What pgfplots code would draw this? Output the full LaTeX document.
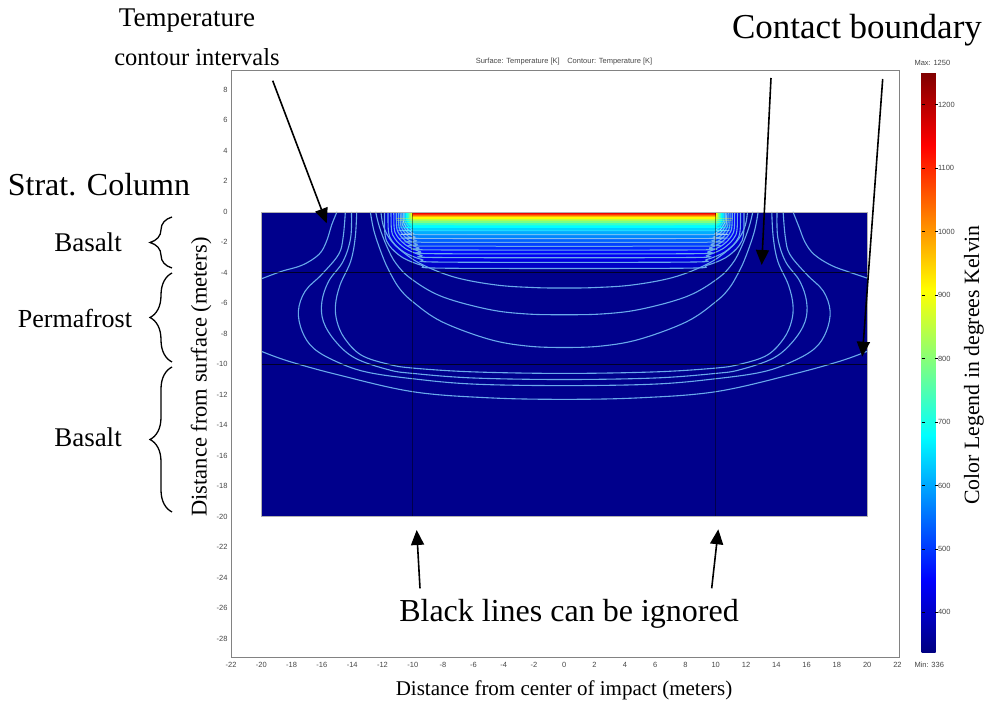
\documentclass[border=0pt]{standalone}
\usepackage{pgfplots}
\pgfplotsset{compat=1.18}
\usepackage{fontspec}
\setmainfont{Liberation Serif}
\newfontfamily\tickfamily{Liberation Sans}
\usetikzlibrary{arrows.meta,decorations.pathreplacing,calc}

\definecolor{navy}{rgb}{0,0,0.55}
\definecolor{cline}{RGB}{105,170,235}
\definecolor{tickgray}{RGB}{70,70,70}
\definecolor{framegray}{RGB}{130,130,130}
\definecolor{l1}{rgb}{0,0,0.78}
\definecolor{l2}{rgb}{0,0,0.87}
\definecolor{l3}{rgb}{0,0,0.955}
\definecolor{l4}{rgb}{0,0.04,1}
\definecolor{l5}{rgb}{0,0.15,1}
\definecolor{l6}{rgb}{0,0.26,1}
\definecolor{l7}{rgb}{0,0.39,1}
\definecolor{l8}{rgb}{0,0.525,1}
\definecolor{l9}{rgb}{0,0.68,1}
\definecolor{l10}{rgb}{0,0.83,1}
\definecolor{l11}{rgb}{0,1,1}
\definecolor{l12}{rgb}{0.22,1,0.78}
\definecolor{l13}{rgb}{0.49,1,0.51}
\definecolor{l14}{rgb}{0.75,1,0.25}
\definecolor{l15}{rgb}{1,0.99,0}
\definecolor{l16}{rgb}{1,0.725,0}
\definecolor{l17}{rgb}{1,0.46,0}
\definecolor{l18}{rgb}{1,0.2,0}
\definecolor{l19}{rgb}{0.94,0,0}
\definecolor{l20}{rgb}{0.68,0,0}

\newcommand\tickfont{\tickfamily\fontsize{7.5bp}{8bp}\selectfont}
\newcommand\annot{\fontsize{27bp}{30bp}\selectfont}
\newcommand\labfont{\fontsize{21.5bp}{24bp}\selectfont}

\pgfplotsset{band/.style={draw=none, smooth, tension=0.5}}

\begin{document}
\begin{tikzpicture}
\useasboundingbox (0,0) rectangle (985bp,702bp);
\begin{axis}[
  at={(231bp,45bp)}, anchor=south west,
  scale only axis, width=668bp, height=587bp,
  xmin=-22, xmax=22.1, ymin=-29.2, ymax=9.3,
  xtick={-22,-20,...,22}, ytick={-28,-26,...,8},
  tick style={draw=none},
  /pgf/number format/assume math mode=true,
  xticklabel style={font=\tickfont, text=tickgray, yshift=-2bp},
  yticklabel style={font=\tickfont, text=tickgray},
  axis line style={draw=framegray, line width=0.8bp},
  colormap/jet, point meta min=336, point meta max=1250,
  colorbar,
  colorbar style={
    at={($(parent axis.north east)+(14bp,-3bp)$)}, anchor=north west,
    scale only axis, width=16bp, height=580bp,
    ytick={400,500,...,1200},
    yticklabel style={font=\tickfont, text=tickgray, xshift=-3bp},
    /pgf/number format/assume math mode=true,
    /pgf/number format/1000 sep={},
    major tick length=3bp,
    tick style={black, line width=0.5bp},
    axis line style={draw=none},
  },
]
% domain
\addplot[fill=navy, draw=none] coordinates {(-20,0) (20,0) (20,-20) (-20,-20)} -- cycle;
% isotherm bands (outer to inner)
\addplot[band, fill=l1, draw=cline, line width=1.1bp] coordinates {(-11.85,2) (-11.85,-1.3) (-11.546,-2.219) (-10.678,-2.997) (-9.382,-3.518) (-7.85,-3.7) (7.85,-3.7) (9.382,-3.518) (10.678,-2.997) (11.546,-2.219) (11.85,-1.3) (11.85,2)} -- cycle;
\addplot[band, fill=l2, draw=cline, line width=1.1bp] coordinates {(-11.62,2) (-11.62,-1.1) (-11.346,-1.943) (-10.565,-2.655) (-9.399,-3.133) (-8.02,-3.3) (8.02,-3.3) (9.399,-3.133) (10.565,-2.655) (11.346,-1.943) (11.62,-1.1) (11.62,2)} -- cycle;
\addplot[band, fill=l3, draw=cline, line width=1.1bp] coordinates {(-11.42,2) (-11.42,-1.0) (-11.177,-1.766) (-10.482,-2.414) (-9.446,-2.848) (-8.22,-3.0) (8.22,-3.0) (9.446,-2.848) (10.482,-2.414) (11.177,-1.766) (11.42,-1.0) (11.42,2)} -- cycle;
\addplot[band, fill=l4, draw=cline, line width=1.1bp] coordinates {(-11.24,2) (-11.24,-0.9) (-11.027,-1.609) (-10.42,-2.208) (-9.512,-2.609) (-8.44,-2.75) (8.44,-2.75) (9.512,-2.609) (10.42,-2.208) (11.027,-1.609) (11.24,-0.9) (11.24,2)} -- cycle;
\addplot[band, fill=l5, draw=cline, line width=1.1bp] coordinates {(-11.08,2) (-11.08,-0.8) (-10.898,-1.451) (-10.377,-2.002) (-9.599,-2.371) (-8.68,-2.5) (8.68,-2.5) (9.599,-2.371) (10.377,-2.002) (10.898,-1.451) (11.08,-0.8) (11.08,2)} -- cycle;
\addplot[band, fill=l6, draw=cline, line width=1.0bp] coordinates {(-10.94,2) (-10.94,-0.7) (-10.788,-1.294) (-10.354,-1.796) (-9.706,-2.132) (-8.94,-2.25) (8.94,-2.25) (9.706,-2.132) (10.354,-1.796) (10.788,-1.294) (10.94,-0.7) (10.94,2)} -- cycle;
\addplot[band, fill=l7, draw=cline, line width=1.0bp] coordinates {(-10.82,2) (-10.82,-0.6) (-10.691,-1.136) (-10.322,-1.59) (-9.771,-1.894) (-9.12,-2.0) (9.12,-2.0) (9.771,-1.894) (10.322,-1.59) (10.691,-1.136) (10.82,-0.6) (10.82,2)} -- cycle;
\addplot[band, fill=l8, draw=cline!80!white, line width=0.9bp] coordinates {(-10.72,2) (-10.72,-0.5) (-10.614,-0.979) (-10.31,-1.384) (-9.856,-1.655) (-9.32,-1.75) (9.32,-1.75) (9.856,-1.655) (10.31,-1.384) (10.614,-0.979) (10.72,-0.5) (10.72,2)} -- cycle;
\addplot[band, fill=l9, draw=cline!60!white, line width=0.7bp] coordinates {(-10.63,2) (-10.63,-0.4) (-10.546,-0.821) (-10.308,-1.178) (-9.951,-1.416) (-9.53,-1.5) (9.53,-1.5) (9.951,-1.416) (10.308,-1.178) (10.546,-0.821) (10.63,-0.4) (10.63,2)} -- cycle;
\addplot[band, fill=l10, draw=white, draw opacity=0.35, line width=0.5bp] coordinates {(-10.54,2) (-10.54,-0.35) (-10.475,-0.695) (-10.291,-0.986) (-10.016,-1.182) (-9.69,-1.25) (9.69,-1.25) (10.016,-1.182) (10.291,-0.986) (10.475,-0.695) (10.54,-0.35) (10.54,2)} -- cycle;
\addplot[band, fill=l11] coordinates {(-10.45,2) (-10.45,-0.3) (-10.401,-0.587) (-10.26,-0.83) (-10.049,-0.993) (-9.8,-1.05) (9.8,-1.05) (10.049,-0.993) (10.26,-0.83) (10.401,-0.587) (10.45,-0.3) (10.45,2)} -- cycle;
\addplot[band, fill=l12] coordinates {(-10.35,2) (-10.35,-0.28) (-10.312,-0.51) (-10.204,-0.704) (-10.042,-0.834) (-9.85,-0.88) (9.85,-0.88) (10.042,-0.834) (10.204,-0.704) (10.312,-0.51) (10.35,-0.28) (10.35,2)} -- cycle;
\addplot[band, fill=l13] coordinates {(-10.25,2) (-10.25,-0.24) (-10.221,-0.424) (-10.139,-0.579) (-10.016,-0.684) (-9.87,-0.72) (9.87,-0.72) (10.016,-0.684) (10.139,-0.579) (10.221,-0.424) (10.25,-0.24) (10.25,2)} -- cycle;
\addplot[band, fill=l14] coordinates {(-10.16,2) (-10.16,-0.2) (-10.139,-0.346) (-10.078,-0.469) (-9.987,-0.551) (-9.88,-0.58) (9.88,-0.58) (9.987,-0.551) (10.078,-0.469) (10.139,-0.346) (10.16,-0.2) (10.16,2)} -- cycle;
\addplot[band, fill=l15] coordinates {(-10.09,2) (-10.09,-0.16) (-10.075,-0.275) (-10.031,-0.372) (-9.967,-0.437) (-9.89,-0.46) (9.89,-0.46) (9.967,-0.437) (10.031,-0.372) (10.075,-0.275) (10.09,-0.16) (10.09,2)} -- cycle;
\addplot[fill=l16, draw=none] coordinates {(-10.05,2) (-10.05,-0.36) (10.05,-0.36) (10.05,2)} -- cycle;
\addplot[fill=l17, draw=none] coordinates {(-10.02,2) (-10.02,-0.27) (10.02,-0.27) (10.02,2)} -- cycle;
\addplot[fill=l18, draw=none] coordinates {(-10.0,2) (-10.0,-0.19) (10.0,-0.19) (10.0,2)} -- cycle;
\addplot[fill=l19, draw=none] coordinates {(-10.0,2) (-10.0,-0.12) (10.0,-0.12) (10.0,2)} -- cycle;
\addplot[fill=l20, draw=none] coordinates {(-10.0,2) (-10.0,-0.06) (10.0,-0.06) (10.0,2)} -- cycle;
% blank area above the surface
\addplot[fill=white, draw=none] coordinates {(-21,0) (21,0) (21,4) (-21,4)} -- cycle;
% contour lines
\addplot[cline, line width=1.1bp, smooth, tension=0.6] coordinates {(-12.1,0) (-11.95,-0.9) (-11.5,-1.8) (-10.7,-2.6) (-9.4,-3.45) (-7.2,-4.3) (-4.5,-4.8) (-2,-4.97) (0,-5.0) (2,-4.97) (4.5,-4.8) (7.2,-4.3) (9.4,-3.45) (10.7,-2.6) (11.5,-1.8) (11.95,-0.9) (12.1,0)};
\addplot[cline, line width=1.1bp, smooth, tension=0.6] coordinates {(-12.45,0) (-12.2,-1.0) (-11.7,-2.3) (-11.1,-3.4) (-10.1,-4.4) (-8.1,-5.55) (-5,-6.4) (-2.5,-6.7) (0,-6.75) (2.5,-6.7) (5,-6.4) (8.1,-5.55) (10.1,-4.4) (11.1,-3.4) (11.7,-2.3) (12.2,-1.0) (12.45,0)};
\addplot[cline, line width=1.1bp, smooth, tension=0.6] coordinates {(-12.8,0) (-12.55,-1.3) (-12.0,-2.9) (-11.55,-3.9) (-10.9,-5.0) (-10.0,-5.9) (-8.1,-7.2) (-5,-8.35) (-2.5,-8.8) (0,-8.9) (2.5,-8.8) (5,-8.35) (8.1,-7.2) (10.0,-5.9) (10.9,-5.0) (11.55,-3.9) (12.0,-2.9) (12.55,-1.3) (12.8,0)};
\addplot[cline, line width=1.1bp, smooth, tension=0.6] coordinates {(-13.7,0) (-13.8,-1.7) (-14.1,-3.25) (-14.8,-4.8) (-15.1,-6.1) (-15.0,-7.2) (-14.5,-8.3) (-13.4,-9.4) (-11.6,-10.0) (-10,-10.25) (-6,-10.5) (0,-10.6) (6,-10.5) (10,-10.25) (11.6,-10.0) (13.4,-9.4) (14.5,-8.3) (15.0,-7.2) (15.1,-6.1) (14.8,-4.8) (14.1,-3.25) (13.8,-1.7) (13.7,0)};
\addplot[cline, line width=1.1bp, smooth, tension=0.6] coordinates {(-14.05,0) (-14.1,-1.7) (-14.6,-3.25) (-15.55,-4.55) (-16.0,-5.9) (-15.9,-7.2) (-15.1,-8.5) (-13.8,-9.6) (-11.6,-10.36) (-10,-10.6) (-6,-10.9) (0,-11.0) (6,-10.9) (10,-10.6) (11.6,-10.36) (13.8,-9.6) (15.1,-8.5) (15.9,-7.2) (16.0,-5.9) (15.55,-4.55) (14.6,-3.25) (14.1,-1.7) (14.05,0)};
\addplot[cline, line width=1.1bp, smooth, tension=0.6] coordinates {(-14.45,0) (-14.6,-1.7) (-14.9,-2.8) (-16.0,-4.1) (-17.1,-5.2) (-17.55,-6.5) (-17.3,-7.85) (-16.55,-8.95) (-15.1,-9.8) (-13.1,-10.5) (-10,-10.95) (-6,-11.3) (0,-11.4) (6,-11.3) (10,-10.95) (13.1,-10.5) (15.1,-9.8) (16.55,-8.95) (17.3,-7.85) (17.55,-6.5) (17.1,-5.2) (16.0,-4.1) (14.9,-2.8) (14.6,-1.7) (14.45,0)};
\addplot[cline, line width=1.1bp, smooth, tension=0.6] coordinates {(-20,-9.15) (-18.2,-9.8) (-14.9,-10.7) (-10,-11.8) (-5,-12.2) (0,-12.3) (5,-12.2) (10,-11.8) (14.9,-10.7) (18.2,-9.8) (20,-9.15)};
\addplot[cline, line width=1.1bp, smooth, tension=0.6] coordinates {(-15.0,0) (-15.35,-0.85) (-15.7,-1.95) (-16.2,-2.8) (-17.3,-3.5) (-18.65,-3.9) (-20,-4.4)};
\addplot[cline, line width=1.1bp, smooth, tension=0.6] coordinates {(15.1,0) (15.5,-1.0) (15.9,-2.0) (16.5,-2.8) (17.6,-3.5) (18.8,-3.95) (20,-4.35)};
% contact boundaries and mesh lines
\addplot[black, opacity=0.7, line width=0.8bp] coordinates {(-20,-4) (20,-4)};
\addplot[black, opacity=0.7, line width=0.8bp] coordinates {(-20,-10) (20,-10)};
\addplot[black, opacity=0.45, line width=0.7bp] coordinates {(-10,0) (-10,-20)};
\addplot[black, opacity=0.45, line width=0.7bp] coordinates {(10,0) (10,-20)};
\addplot[draw=gray!60, line width=0.5bp] coordinates {(-20,0) (20,0) (20,-20) (-20,-20)} -- cycle;
\end{axis}
\begin{scope}[x=1bp,y=1bp]
\node[font=\tickfont, text=tickgray] at (564,640) {Surface: Temperature [K]\quad Contour: Temperature [K]};
\node[font=\tickfont, text=tickgray, anchor=west] at (911,639) {Max: 1250};
\node[font=\tickfont, text=tickgray, anchor=west] at (911,37) {Min: 336};
\node[font=\fontsize{21bp}{24bp}\selectfont] at (564,12) {Distance from center of impact (meters)};
\node[font=\fontsize{22.5bp}{25bp}\selectfont, rotate=90] at (201,325) {Distance from surface (meters)};
\node[font=\fontsize{21.8bp}{24bp}\selectfont, rotate=90] at (974,337) {Color Legend in degrees Kelvin};
\node[font=\annot] at (187,681) {Temperature};
\node[font=\fontsize{24.5bp}{27bp}\selectfont] at (197,645) {contour intervals};
\node[font=\fontsize{35bp}{37bp}\selectfont] at (857,672) {Contact boundary};
\node[font=\fontsize{32bp}{34bp}\selectfont] at (99,517) {Strat. Column};
\node[font=\annot] at (88,460) {Basalt};
\node[font=\fontsize{26bp}{29bp}\selectfont] at (75,384) {Permafrost};
\node[font=\annot] at (88,265) {Basalt};
\node[font=\fontsize{32bp}{34bp}\selectfont] at (569,88) {Black lines can be ignored};
\draw[line width=1.6bp, -{Triangle[length=15bp,width=13bp]}] (272.7,621.3) -- (326.7,478.7);
\draw[line width=1.6bp, -{Triangle[length=15bp,width=13bp]}] (771,624) -- (761.7,437);
\draw[line width=1.6bp, -{Triangle[length=15bp,width=13bp]}] (882.7,623) -- (862.3,345.3);
\draw[line width=1.6bp, -{Triangle[length=15bp,width=13bp]}] (420,113.7) -- (416.7,172);
\draw[line width=1.6bp, -{Triangle[length=15bp,width=13bp]}] (711.7,113.7) -- (718.3,172.7);
\draw[decorate, decoration={brace, amplitude=22bp}, line width=1.3bp] (172,434) -- (172,485);
\draw[decorate, decoration={brace, amplitude=22bp}, line width=1.3bp] (172,340) -- (172,429);
\draw[decorate, decoration={brace, amplitude=22bp}, line width=1.3bp] (172,190) -- (172,335);
\end{scope}
\end{tikzpicture}
\end{document}
